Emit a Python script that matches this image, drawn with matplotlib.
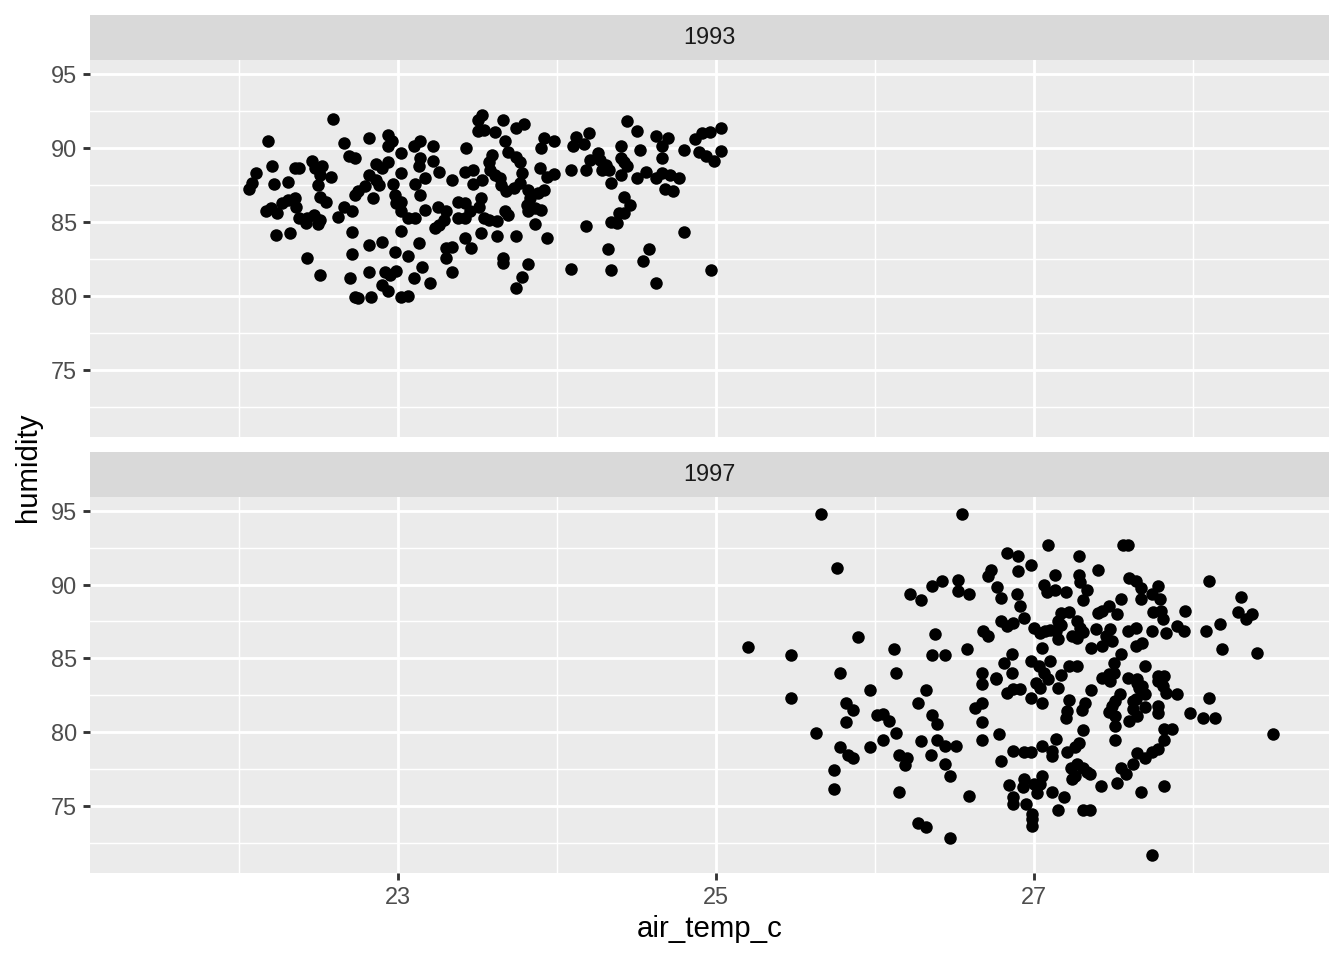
import matplotlib
matplotlib.use("Agg")
import matplotlib.pyplot as plt
from matplotlib.ticker import FixedLocator

plt.rcParams['font.family'] = ['Liberation Sans', 'DejaVu Sans']

# ---------------- data ----------------
years = ["1993", "1997"]

temp_1993 = [
    22.59, 22.18, 22.66, 22.82, 22.94, 22.96, 22.94, 23.02, 22.69, 22.73,
    23.10, 23.14, 23.22, 23.14, 23.22, 23.43, 23.50, 23.53, 23.50, 23.54,
    23.61, 22.11, 22.08, 22.06, 22.21, 22.22, 22.31, 22.35, 22.38, 22.46,
    22.48, 22.52, 22.51, 22.50, 22.58, 22.86, 22.90, 22.94, 22.82, 22.86,
    22.88, 22.84, 22.79, 22.75, 22.73, 23.02, 22.97, 22.98, 22.99, 23.02,
    23.13, 23.17, 23.11, 23.14, 23.26, 23.34, 23.42, 23.47, 23.47, 22.17,
    22.20, 22.24, 22.27, 22.31, 22.35, 22.36, 22.38, 22.43, 22.47, 22.51,
    22.50, 22.42, 22.51, 22.55, 22.62, 22.66, 22.71, 22.23, 22.32, 22.71,
    23.02, 23.06, 23.11, 23.17, 23.25, 23.30, 23.29, 23.23, 23.26, 23.38,
    23.42, 23.38, 23.42, 23.45, 23.51, 23.54, 23.30, 23.34, 23.42, 23.46,
    23.30, 23.34, 22.43, 22.51, 22.71, 22.70, 22.82, 22.90, 22.98, 23.06,
    23.13, 22.82, 22.92, 22.95, 22.99, 22.90, 22.94, 23.15, 23.10, 23.20,
    22.73, 22.75, 22.83, 23.02, 23.06, 23.53, 23.02, 23.52, 23.57, 23.62,
    23.52, 23.66, 23.74, 23.79, 23.67, 23.69, 23.59, 23.57, 23.74, 23.77,
    23.58, 23.61, 23.64, 23.65, 23.68, 23.73, 23.78, 23.77, 23.82, 23.83,
    23.81, 23.82, 23.86, 23.90, 23.88, 23.92, 23.89, 23.94, 23.98, 23.92,
    23.98, 23.90, 23.67, 23.69, 23.86, 23.62, 23.74, 23.94, 23.66, 23.66,
    23.82, 23.78, 23.74, 24.09, 24.09, 24.18, 24.12, 24.20, 24.10, 24.17,
    24.21, 24.26, 24.27, 24.28, 24.33, 24.31, 24.40, 24.40, 24.42, 24.44,
    24.40, 24.34, 24.44, 24.50, 24.52, 24.62, 24.70, 24.66, 24.66, 24.50,
    24.56, 24.62, 24.66, 24.71, 24.77, 24.68, 24.73, 24.80, 24.87, 24.91,
    24.96, 25.03, 24.89, 24.94, 24.99, 25.03, 24.42, 24.46, 24.39, 24.34,
    24.38, 24.42, 24.18, 24.80, 24.32, 24.58, 24.54, 24.34, 24.62, 24.97,
]
hum_1993 = [
    91.94, 90.43, 90.32, 90.66, 90.88, 90.43, 90.09, 89.64, 89.46, 89.34,
    90.09, 90.43, 90.09, 89.34, 89.12, 89.98, 91.89, 92.23, 91.15, 91.22,
    91.06, 88.33, 87.61, 87.23, 88.74, 87.55, 87.72, 88.63, 88.63, 89.12,
    88.67, 88.74, 88.18, 87.50, 88.06, 88.90, 88.67, 89.03, 88.18, 87.84,
    87.50, 86.60, 87.39, 87.05, 86.82, 88.29, 87.55, 86.82, 86.26, 86.37,
    88.74, 87.95, 87.55, 86.82, 88.40, 87.84, 88.40, 88.51, 87.55, 85.70,
    85.93, 85.59, 86.26, 86.49, 86.60, 86.03, 85.25, 85.25, 85.47, 85.14,
    84.84, 84.91, 86.71, 86.37, 85.36, 86.03, 85.70, 84.12, 84.24, 84.34,
    84.39, 85.25, 85.25, 85.81, 86.03, 85.70, 85.14, 84.57, 84.80, 86.37,
    86.26, 85.25, 85.25, 85.70, 86.03, 85.25, 83.22, 83.33, 83.90, 83.22,
    82.55, 81.64, 82.55, 81.42, 82.82, 81.20, 83.45, 83.67, 82.95, 82.72,
    83.56, 81.64, 81.64, 81.42, 81.69, 80.74, 80.36, 81.98, 81.24, 80.86,
    79.95, 79.84, 79.95, 79.95, 80.02, 87.84, 85.70, 86.60, 85.14, 85.07,
    84.24, 91.89, 91.33, 91.60, 90.47, 89.75, 89.53, 89.07, 89.41, 89.07,
    88.51, 88.18, 87.95, 87.50, 87.05, 87.28, 88.29, 87.64, 87.16, 86.60,
    86.15, 85.70, 85.93, 85.81, 86.94, 87.16, 88.63, 88.06, 88.24, 90.66,
    90.43, 89.98, 85.70, 85.47, 84.84, 84.05, 84.05, 83.94, 82.55, 82.21,
    82.14, 81.30, 80.56, 81.82, 88.51, 88.51, 90.76, 90.99, 90.09, 90.25,
    89.19, 89.64, 89.19, 88.51, 88.51, 88.85, 90.09, 89.30, 89.07, 88.74,
    88.18, 87.61, 91.82, 91.15, 89.82, 90.81, 90.66, 90.09, 89.30, 87.99,
    88.40, 87.95, 88.29, 88.13, 87.95, 87.23, 87.09, 89.86, 90.59, 90.99,
    91.10, 91.33, 89.75, 89.48, 89.12, 89.80, 86.71, 86.15, 85.59, 85.02,
    84.91, 85.59, 84.75, 84.34, 83.16, 83.16, 82.36, 81.76, 80.86, 81.76,
]

temp_1997 = [
    25.66, 25.76, 26.22, 26.29, 25.20, 25.47, 25.89, 26.12, 25.78, 26.13,
    26.55, 27.09, 26.83, 26.90, 26.98, 27.28, 27.40, 26.73, 26.71, 26.90,
    27.13, 27.28, 27.29, 27.33, 27.31, 26.42, 26.36, 26.52, 26.52, 26.59,
    26.77, 26.79, 26.89, 27.06, 27.08, 27.13, 27.20, 26.91, 26.94, 26.79,
    26.83, 26.87, 27.17, 27.22, 27.15, 27.17, 27.14, 27.40, 27.43, 27.47,
    27.27, 27.29, 27.31, 27.24, 27.27, 27.00, 27.04, 27.07, 27.10, 27.15,
    27.39, 27.45, 27.43, 27.36, 26.68, 26.71, 26.38, 26.58, 27.05, 26.36,
    26.44, 26.86, 26.81, 26.86, 26.98, 27.03, 27.06, 27.10, 27.09, 27.22,
    27.27, 27.17, 26.67, 26.76, 27.43, 27.47, 27.56, 27.59, 27.60, 27.64,
    27.67, 27.78, 28.10, 27.55, 27.52, 27.67, 27.74, 27.79, 27.75, 27.80,
    27.81, 27.95, 28.30, 28.28, 28.37, 28.33, 28.17, 28.08, 27.59, 27.64,
    27.74, 27.83, 27.90, 27.94, 27.48, 27.49, 27.64, 27.68, 28.18, 28.40,
    27.55, 27.50, 27.50, 27.70, 27.59, 27.65, 27.78, 27.82, 27.15, 27.48,
    27.66, 27.64, 25.47, 25.97, 25.82, 25.86, 25.82, 26.01, 26.05, 26.09,
    26.27, 26.32, 25.63, 26.13, 26.05, 26.29, 25.78, 25.83, 25.86, 25.97,
    26.15, 26.20, 26.19, 25.74, 25.74, 26.15, 26.27, 26.32, 26.67, 26.76,
    26.83, 26.87, 26.91, 26.98, 27.01, 27.04, 27.05, 27.36, 27.22, 27.21,
    27.20, 27.32, 27.30, 26.63, 26.67, 26.36, 26.39, 26.67, 27.31, 26.78,
    26.67, 26.39, 26.44, 26.51, 26.35, 26.44, 26.47, 26.87, 26.94, 26.98,
    27.05, 27.11, 27.11, 27.14, 27.21, 27.28, 27.26, 26.79, 27.23, 27.27,
    27.31, 27.33, 27.35, 27.24, 27.26, 27.42, 26.84, 26.94, 26.93, 27.00,
    27.05, 27.04, 27.02, 27.11, 27.19, 26.59, 26.87, 26.87, 26.95, 27.15,
    27.31, 27.35, 26.99, 26.99, 26.99, 26.47, 27.65, 27.68, 27.70, 27.78,
    27.81, 27.83, 27.90, 27.54, 27.51, 27.49, 27.47, 27.51, 27.51, 27.62,
    27.62, 27.65, 27.60, 27.70, 27.78, 27.78, 27.98, 28.10, 28.06, 28.14,
    28.50, 27.82, 27.87, 27.51, 27.82, 27.78, 27.74, 27.70, 27.65, 27.62,
    27.55, 27.58, 27.52, 27.67, 27.82, 27.74,
]
hum_1997 = [
    94.80, 91.10, 89.33, 88.94, 85.74, 85.25, 86.44, 85.63, 84.03, 84.03,
    94.80, 92.70, 92.14, 91.91, 91.30, 91.91, 91.01, 91.01, 90.61, 90.95,
    90.63, 90.68, 90.16, 89.66, 88.94, 90.22, 89.93, 90.34, 89.55, 89.39,
    89.84, 89.10, 89.33, 90.00, 89.48, 89.66, 89.48, 88.54, 87.75, 87.52,
    87.19, 87.37, 88.09, 88.13, 87.52, 87.23, 86.85, 88.09, 88.20, 88.58,
    87.52, 87.08, 86.78, 86.51, 86.40, 87.08, 86.74, 86.85, 86.91, 86.33,
    86.96, 86.51, 85.83, 85.72, 86.85, 86.51, 86.62, 85.61, 85.72, 85.22,
    85.22, 85.27, 84.71, 84.03, 84.82, 84.48, 84.03, 84.82, 83.58, 84.48,
    84.48, 83.85, 84.03, 83.70, 83.70, 83.92, 92.70, 92.70, 90.45, 90.22,
    89.77, 89.93, 90.22, 89.03, 88.02, 89.03, 89.33, 89.03, 88.13, 88.20,
    87.64, 88.24, 89.14, 88.13, 88.04, 87.64, 87.35, 86.85, 86.85, 87.08,
    86.85, 86.74, 87.19, 86.85, 86.96, 86.17, 85.83, 86.06, 85.61, 85.34,
    85.27, 84.71, 84.03, 84.48, 83.70, 83.58, 83.80, 83.80, 83.02, 83.47,
    83.02, 82.23, 82.35, 82.84, 81.96, 81.51, 80.72, 81.15, 81.22, 80.76,
    81.96, 82.84, 79.93, 79.93, 79.46, 79.41, 79.03, 78.45, 78.24, 79.03,
    78.45, 78.29, 77.77, 77.45, 76.15, 75.93, 73.85, 73.56, 83.24, 83.58,
    82.64, 82.90, 82.95, 82.35, 83.36, 83.02, 81.96, 82.84, 82.18, 81.44,
    80.99, 81.96, 81.51, 81.67, 81.96, 81.15, 80.59, 80.72, 80.14, 79.87,
    79.46, 79.46, 79.07, 79.07, 78.45, 77.84, 77.05, 78.74, 78.63, 78.63,
    79.07, 78.74, 78.40, 79.57, 78.67, 79.30, 78.97, 78.06, 77.61, 77.84,
    77.55, 77.32, 77.16, 76.82, 77.05, 76.37, 76.44, 76.82, 76.26, 76.49,
    77.05, 76.49, 75.88, 75.96, 75.59, 75.66, 75.59, 75.14, 75.14, 74.75,
    74.75, 74.75, 74.46, 74.12, 73.67, 72.84, 83.36, 83.13, 82.57, 83.47,
    83.13, 82.68, 82.57, 82.57, 82.11, 81.78, 81.37, 81.10, 80.42, 82.11,
    81.55, 81.10, 80.76, 81.74, 81.78, 81.33, 81.33, 82.35, 80.95, 80.95,
    79.87, 80.25, 80.25, 79.46, 79.46, 78.85, 78.63, 78.29, 78.58, 77.84,
    77.61, 77.16, 76.55, 75.96, 76.37, 71.69,
]

x_ticks = [23, 25, 27]
x_minor = [22, 24, 26, 28]
y_ticks = [75, 80, 85, 90, 95]
y_minor = [72.5, 77.5, 82.5, 87.5, 92.5]
x_lim = (21.063, 28.855)
y_lim = (70.47, 95.93)

# ---------------- figure ----------------
W, H = 1344, 960
fig = plt.figure(figsize=(7, 5), dpi=192)


def box(l, t, r, b):
    return [l / W, 1 - b / H, (r - l) / W, (b - t) / H]


panels = [
    (temp_1993, hum_1993, (90, 60, 1329, 437), (90, 15, 1329, 60)),
    (temp_1997, hum_1997, (90, 497, 1329, 873), (90, 452, 1329, 497)),
]

for i, (xs, ys, pbox, sbox) in enumerate(panels):
    ax = fig.add_axes(box(*pbox))
    ax.set_facecolor('#EBEBEB')
    for sp in ax.spines.values():
        sp.set_visible(False)
    ax.set_xlim(*x_lim)
    ax.set_ylim(*y_lim)
    ax.xaxis.set_major_locator(FixedLocator(x_ticks))
    ax.xaxis.set_minor_locator(FixedLocator(x_minor))
    ax.yaxis.set_major_locator(FixedLocator(y_ticks))
    ax.yaxis.set_minor_locator(FixedLocator(y_minor))
    ax.set_axisbelow(True)
    ax.grid(which='major', color='white', linewidth=1.07)
    ax.grid(which='minor', color='white', linewidth=0.53)
    ax.tick_params(which='major', length=2.75, width=1.07, color='#333333',
                   labelsize=8.8, labelcolor='#4D4D4D', pad=2.2)
    ax.tick_params(which='minor', length=0)
    if i == 0:
        ax.tick_params(axis='x', which='major', length=0, labelbottom=False)
    ax.scatter(xs, ys, s=22, c='black', linewidths=0, zorder=3)

    sax = fig.add_axes(box(*sbox))
    sax.set_facecolor('#D9D9D9')
    for sp in sax.spines.values():
        sp.set_visible(False)
    sax.set_xticks([])
    sax.set_yticks([])
    sax.text(0.5, 0.5, years[i], ha='center', va='center', fontsize=8.8,
             color='#1A1A1A', transform=sax.transAxes)

fig.text(709.5 / W, 1 - 929 / H, 'air_temp_c', ha='center', va='center',
         fontsize=11, color='black')
fig.text(28 / W, 1 - 467 / H, 'humidity', ha='center', va='center',
         rotation=90, fontsize=11, color='black')

fig.savefig('out.png', dpi=192)
